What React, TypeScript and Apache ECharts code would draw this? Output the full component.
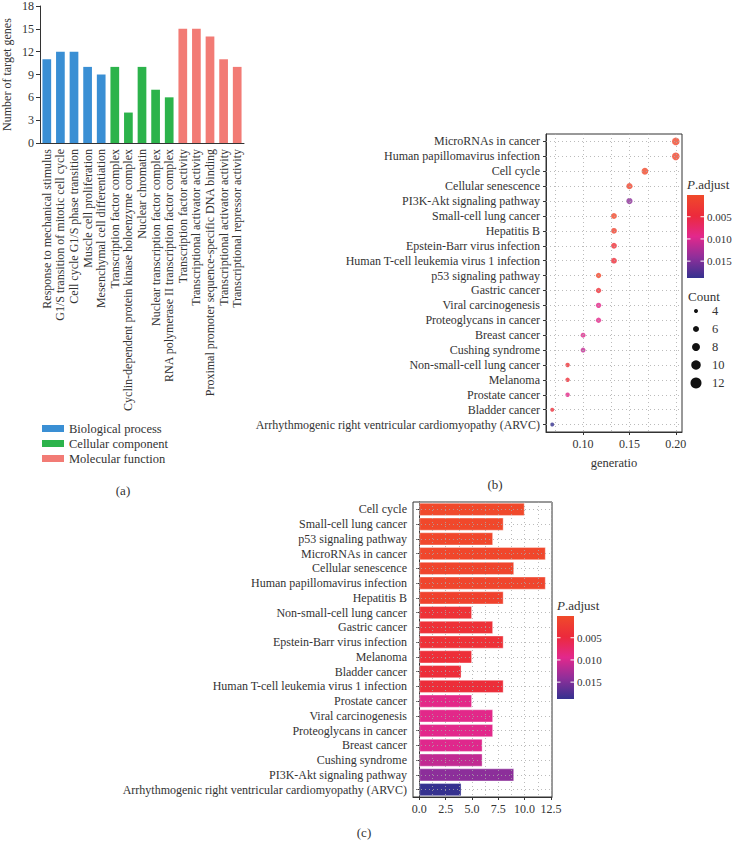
import React, { useEffect, useRef } from 'react';
import * as echarts from 'echarts';

// ---------- Panel (a) data ----------
const goTerms = [
  'Response to mechanical stimulus',
  'G1/S transition of mitotic cell cycle',
  'Cell cycle G1/S phase transition',
  'Muscle cell proliferation',
  'Mesenchymal cell differentiation',
  'Transcription factor complex',
  'Cyclin-dependent protein kinase holoenzyme complex',
  'Nuclear chromatin',
  'Nuclear transcription factor complex',
  'RNA polymerase II transcription factor complex',
  'Transcription factor activity',
  'Transcriptional activator activity',
  'Proximal promoter sequence-specific DNA binding',
  'Transcriptional activator activity',
  'Transcriptional repressor activity',
];
const goCounts = [11, 12, 12, 10, 9, 10, 4, 10, 7, 6, 15, 15, 14, 11, 10];
const goGroupOf = [0, 0, 0, 0, 0, 1, 1, 1, 1, 1, 2, 2, 2, 2, 2];
const goGroups = ['Biological process', 'Cellular component', 'Molecular function'];
const goColors = ['#3a8fd4', '#2cb34b', '#f27b75'];

// ---------- Panel (b) data ----------
const dotPathways = [
  'MicroRNAs in cancer',
  'Human papillomavirus infection',
  'Cell cycle',
  'Cellular senescence',
  'PI3K-Akt signaling pathway',
  'Small-cell lung cancer',
  'Hepatitis B',
  'Epstein-Barr virus infection',
  'Human T-cell leukemia virus 1 infection',
  'p53 signaling pathway',
  'Gastric cancer',
  'Viral carcinogenesis',
  'Proteoglycans in cancer',
  'Breast cancer',
  'Cushing syndrome',
  'Non-small-cell lung cancer',
  'Melanoma',
  'Prostate cancer',
  'Bladder cancer',
  'Arrhythmogenic right ventricular cardiomyopathy (ARVC)',
];
const dotRatio = [0.2, 0.2, 0.1667, 0.15, 0.15, 0.1333, 0.1333, 0.1333, 0.1333, 0.1167, 0.1167, 0.1167, 0.1167, 0.1, 0.1, 0.0833, 0.0833, 0.0833, 0.0667, 0.0667];
const dotCount = [12, 12, 10, 9, 9, 8, 8, 8, 8, 7, 7, 7, 7, 6, 6, 5, 5, 5, 4, 4];
const dotRatioTicks = [0.1, 0.15, 0.2];
const dotGridX = [0.075, 0.1, 0.125, 0.15, 0.175, 0.2];
const countLegend = [4, 6, 8, 10, 12];

// ---------- Panel (c) data ----------
const barPathways = [
  'Cell cycle',
  'Small-cell lung cancer',
  'p53 signaling pathway',
  'MicroRNAs in cancer',
  'Cellular senescence',
  'Human papillomavirus infection',
  'Hepatitis B',
  'Non-small-cell lung cancer',
  'Gastric cancer',
  'Epstein-Barr virus infection',
  'Melanoma',
  'Bladder cancer',
  'Human T-cell leukemia virus 1 infection',
  'Prostate cancer',
  'Viral carcinogenesis',
  'Proteoglycans in cancer',
  'Breast cancer',
  'Cushing syndrome',
  'PI3K-Akt signaling pathway',
  'Arrhythmogenic right ventricular cardiomyopathy (ARVC)',
];
const barCount = [10, 8, 7, 12, 9, 12, 8, 5, 7, 8, 5, 4, 8, 5, 7, 7, 6, 6, 9, 4];
const barPadj = [0.0003, 0.0004, 0.0005, 0.0006, 0.0008, 0.0009, 0.0012, 0.0036, 0.0037, 0.0038, 0.004, 0.0042, 0.0043, 0.0092, 0.0093, 0.0094, 0.0096, 0.0113, 0.0143, 0.0188];
const barTicks = [0, 2.5, 5, 7.5, 10, 12.5];
const barGridX = [0, 1.25, 2.5, 3.75, 5, 6.25, 7.5, 8.75, 10, 11.25, 12.5];

// ---------- colour scale for p.adjust ----------
const padjMin = 0.0001;
const padjMax = 0.0188;
const padjTicks = [0.005, 0.01, 0.015];
const padjColors = ['#f04a2a', '#ec2a3c', '#e2288c', '#8f2f9a', '#35318f'];

const FONT = '"Liberation Serif", "DejaVu Serif", serif';
const TXT = '#333';

const padjOf = (name: string) => barPadj[barPathways.indexOf(name)];
const dotSize = (c: number) => 2.2 + c * 0.45;
const legendDotSize = (c: number) => ({ 4: 4, 6: 6, 8: 8, 10: 9.5, 12: 11 } as any)[c];

function colorBar(x: number, y: number, w: number, h: number) {
  const stops = padjColors.map((c, i) => ({ offset: i / (padjColors.length - 1), color: c }));
  const els: any[] = [
    { type: 'text', x: x, y: y - 17, style: { text: '{i|P}.adjust', rich: { i: { fontStyle: 'italic', fontFamily: FONT, fontSize: 13, fill: TXT } }, fontFamily: FONT, fontSize: 13, fill: TXT } },
    { type: 'rect', shape: { x, y, width: w, height: h }, style: { fill: new echarts.graphic.LinearGradient(0, 0, 0, 1, stops) } },
  ];
  padjTicks.forEach((t) => {
    const ty = y + ((t - padjMin) / (padjMax - padjMin)) * h;
    els.push({ type: 'line', shape: { x1: x, y1: ty, x2: x + 3.5, y2: ty }, style: { stroke: '#fff', lineWidth: 1 } });
    els.push({ type: 'line', shape: { x1: x + w - 3.5, y1: ty, x2: x + w, y2: ty }, style: { stroke: '#fff', lineWidth: 1 } });
    els.push({ type: 'text', x: x + w + 3, y: ty, style: { text: t.toFixed(3), fontFamily: FONT, fontSize: 11, fill: TXT, verticalAlign: 'middle' } });
  });
  return els;
}

function gridLines(xs: number[], cats: string[]) {
  return {
    silent: true,
    symbol: ['none', 'none'],
    label: { show: false },
    animation: false,
    lineStyle: { color: '#aaa', type: [1, 3], width: 0.8 },
    emphasis: { disabled: true },
    data: [...xs.map((v) => ({ xAxis: v })), ...cats.map((c) => ({ yAxis: c }))],
  };
}

export default function App() {
  const ref = useRef<HTMLDivElement>(null);
  useEffect(() => {
    const chart = echarts.init(ref.current!, null, { renderer: 'svg' });

    const goSeries = goGroups.map((g, gi) => ({
      type: 'bar',
      name: g,
      stack: 'go',
      xAxisIndex: 0,
      yAxisIndex: 0,
      barWidth: '64%',
      itemStyle: { color: goColors[gi] },
      data: goCounts.map((v, i) => (goGroupOf[i] === gi ? v : '-')),
    }));

    const countLegendEls: any[] = [
      { type: 'text', x: 688, y: 290, style: { text: 'Count', fontFamily: FONT, fontSize: 13, fill: TXT } },
    ];
    countLegend.forEach((c, i) => {
      const cy = 311 + i * 18;
      countLegendEls.push({ type: 'circle', shape: { cx: 696, cy, r: legendDotSize(c) / 2 }, style: { fill: '#111' } });
      countLegendEls.push({ type: 'text', x: 712, y: cy, style: { text: String(c), fontFamily: FONT, fontSize: 12.5, fill: TXT, verticalAlign: 'middle' } });
    });

    const option: any = {
      animation: false,
      textStyle: { fontFamily: FONT },
      grid: [
        { left: 39, top: 4, width: 205, height: 139 },
        { left: 546, top: 134, width: 136, height: 298, show: true, borderColor: '#333', borderWidth: 1 },
        { left: 413, top: 502, width: 139, height: 295, show: true, borderColor: '#333', borderWidth: 1 },
      ],
      legend: {
        data: goGroups,
        orient: 'vertical',
        left: 37,
        top: 417,
        icon: 'rect',
        itemWidth: 22,
        itemHeight: 7,
        itemGap: 2,
        textStyle: { fontFamily: FONT, fontSize: 12.5, color: TXT },
      },
      xAxis: [
        {
          type: 'category', gridIndex: 0, data: goTerms,
          axisLine: { lineStyle: { color: '#333' } },
          axisTick: { alignWithLabel: true, length: 4, lineStyle: { color: '#333' } },
          axisLabel: { rotate: 90, interval: 0, fontFamily: FONT, fontSize: 12, color: TXT, margin: 6 },
        },
        {
          type: 'value', gridIndex: 1, min: 0.06, max: 0.2067,
          name: 'generatio', nameLocation: 'middle', nameGap: 24,
          nameTextStyle: { fontFamily: FONT, fontSize: 12.5, color: TXT },
          axisLine: { show: true, lineStyle: { color: '#333' } },
          axisTick: { show: true, length: 3, customValues: dotRatioTicks, lineStyle: { color: '#333' } },
          axisLabel: { customValues: dotRatioTicks, formatter: (v: number) => v.toFixed(2), fontFamily: FONT, fontSize: 12, color: TXT, margin: 6 },
          splitLine: { show: false },
        },
        {
          type: 'value', gridIndex: 2, min: -0.6, max: 12.6,
          axisLine: { show: true, lineStyle: { color: '#333' } },
          axisTick: { show: true, length: 3, customValues: barTicks, lineStyle: { color: '#333' } },
          axisLabel: { customValues: barTicks, formatter: (v: number) => v.toFixed(1), fontFamily: FONT, fontSize: 12, color: TXT, margin: 6 },
          splitLine: { show: false },
        },
      ],
      yAxis: [
        {
          type: 'value', gridIndex: 0, min: 0, max: 18, interval: 3,
          name: 'Number of target genes', nameLocation: 'middle', nameGap: 27,
          nameTextStyle: { fontFamily: FONT, fontSize: 12, color: TXT },
          axisLine: { show: true, lineStyle: { color: '#333' } },
          axisTick: { show: true, length: 4, lineStyle: { color: '#333' } },
          axisLabel: { fontFamily: FONT, fontSize: 12, color: TXT, margin: 6 },
          splitLine: { show: false },
        },
        {
          type: 'category', gridIndex: 1, data: dotPathways, inverse: true,
          axisLine: { show: true, lineStyle: { color: '#333' } },
          axisTick: { show: true, alignWithLabel: true, length: 3, lineStyle: { color: '#333' } },
          axisLabel: { interval: 0, fontFamily: FONT, fontSize: 12, color: TXT, margin: 6 },
          splitLine: { show: false },
        },
        {
          type: 'category', gridIndex: 2, data: barPathways, inverse: true,
          axisLine: { show: true, lineStyle: { color: '#333' } },
          axisTick: { show: true, alignWithLabel: true, length: 3, lineStyle: { color: '#333' } },
          axisLabel: { interval: 0, fontFamily: FONT, fontSize: 12, color: TXT, margin: 6 },
          splitLine: { show: false },
        },
      ],
      visualMap: [
        { type: 'continuous', show: false, min: padjMin, max: padjMax, dimension: 3, seriesIndex: 4, inRange: { color: padjColors } },
        { type: 'continuous', show: false, min: padjMin, max: padjMax, dimension: 2, seriesIndex: 6, inRange: { color: padjColors } },
      ],
      series: [
        ...goSeries,
        {
          type: 'line', name: 'gridB', xAxisIndex: 1, yAxisIndex: 1, z: 1, data: [],
          markLine: gridLines(dotGridX, dotPathways),
        },
        {
          type: 'scatter', name: 'dots', xAxisIndex: 1, yAxisIndex: 1, z: 3,
          symbolSize: (v: any[]) => dotSize(v[2]),
          data: dotPathways.map((p, i) => [dotRatio[i], p, dotCount[i], padjOf(p)]),
        },
        {
          type: 'line', name: 'gridC', xAxisIndex: 2, yAxisIndex: 2, z: 1, data: [],
          markLine: gridLines(barGridX, barPathways),
        },
        {
          type: 'bar', name: 'bars', xAxisIndex: 2, yAxisIndex: 2, z: 3,
          barWidth: '88%',
          encode: { x: 0, y: 1 },
          itemStyle: { borderColor: 'rgba(255,255,255,0.45)', borderWidth: 0.8 },
          data: barPathways.map((p, i) => [barCount[i], p, barPadj[i]]),
        },
      ],
      graphic: [
        { type: 'text', x: 123, y: 490, style: { text: '(a)', fontFamily: FONT, fontSize: 13, fill: TXT, align: 'center', verticalAlign: 'middle' } },
        { type: 'text', x: 495, y: 484, style: { text: '(b)', fontFamily: FONT, fontSize: 13, fill: TXT, align: 'center', verticalAlign: 'middle' } },
        { type: 'text', x: 364, y: 832, style: { text: '(c)', fontFamily: FONT, fontSize: 13, fill: TXT, align: 'center', verticalAlign: 'middle' } },
        ...colorBar(687, 195, 17, 83),
        ...colorBar(557, 616, 17, 83),
        ...countLegendEls,
      ],
    };
    chart.setOption(option);
    return () => chart.dispose();
  }, []);
  return <div ref={ref} style={{ position: 'absolute', left: 0, top: 0, width: 734, height: 850 }} />;
}
